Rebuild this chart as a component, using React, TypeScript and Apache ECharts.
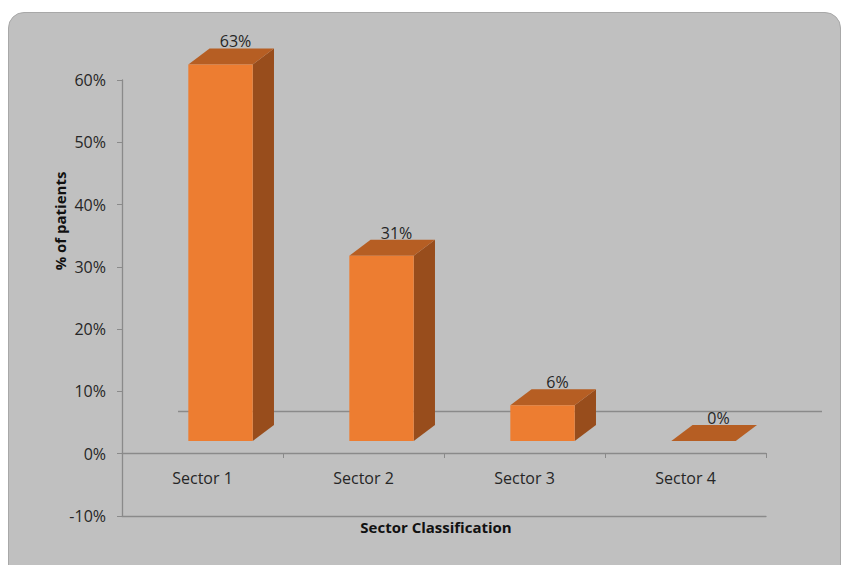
import React, { useEffect, useRef } from "react";
import * as echarts from "echarts";

const categories = ["Sector 1", "Sector 2", "Sector 3", "Sector 4"];
const values = [63, 31, 6, 0];
const yTickMin = -10;
const yTickMax = 60;
const yTickStep = 10;
const yAxisTitle = "% of patients";
const xAxisTitle = "Sector Classification";

const FRONT = "#ED7D31";
const TOP = "#B65E23";
const SIDE = "#984D1C";
const TXT = "#262626";
const AXIS = "#8a8a8a";
const FONT = "'Open Sans', 'Liberation Sans', sans-serif";

export default function App() {
  const ref = useRef<HTMLDivElement>(null);
  useEffect(() => {
    if (!ref.current) return;
    const chart = echarts.init(ref.current, undefined, { renderer: "svg" });
    chart.setOption({
      animation: false,
      backgroundColor: "transparent",
      grid: [
        { left: 122, top: 80, width: 644, height: 436, containLabel: false },
        { left: 122, top: 80, width: 644, height: 373, containLabel: false },
      ],
      graphic: [
        {
          type: "line",
          z: 1,
          shape: { x1: 178, y1: 411.5, x2: 822, y2: 411.5 },
          style: { stroke: AXIS, lineWidth: 1.3 },
        },
        {
          type: "text",
          x: 60,
          y: 221,
          rotation: Math.PI / 2,
          style: {
            text: yAxisTitle,
            align: "center",
            verticalAlign: "middle",
            font: `bold 15px ${FONT}`,
            fill: "#111",
          },
        },
        {
          type: "text",
          x: 436,
          y: 527,
          style: {
            text: xAxisTitle,
            align: "center",
            verticalAlign: "middle",
            font: `bold 15px ${FONT}`,
            fill: "#111",
          },
        },
      ],
      xAxis: [
        {
          gridIndex: 0,
          type: "category",
          data: categories,
          axisLine: { show: true, onZero: false, lineStyle: { color: AXIS, width: 1.3 } },
          axisTick: { show: false },
          axisLabel: { show: false },
          splitLine: { show: false },
        },
        {
          gridIndex: 1,
          type: "category",
          data: categories,
          boundaryGap: true,
          axisLine: { show: true, onZero: false, lineStyle: { color: AXIS, width: 1.3 } },
          axisTick: { show: true, length: 5, interval: 0, lineStyle: { color: AXIS } },
          axisLabel: { margin: 17, fontSize: 16, color: TXT, fontFamily: FONT, interval: 0 },
          splitLine: { show: false },
        },
      ],
      yAxis: [
        {
          gridIndex: 0,
          type: "value",
          min: yTickMin,
          max: yTickMax,
          interval: yTickStep,
          axisLine: { show: true, lineStyle: { color: AXIS, width: 1.3 } },
          axisTick: { show: true, length: 5, lineStyle: { color: AXIS } },
          axisLabel: {
            formatter: "{value}%",
            margin: 16,
            fontSize: 16,
            color: TXT,
            fontFamily: FONT,
          },
          splitLine: { show: false },
        },
        {
          gridIndex: 1,
          type: "value",
          show: false,
          min: -2,
          max: 60.4,
          splitLine: { show: false },
        },
      ],
      series: [
        {
          type: "custom",
          xAxisIndex: 1,
          yAxisIndex: 1,
          z: 5,
          encode: { x: 0, y: 1 },
          data: values.map((v, i) => [i, v]),
          renderItem: (params: any, api: any) => {
            const ci = api.value(0);
            const v = api.value(1);
            const top = api.coord([ci, v]);
            const base = api.coord([ci, 0]);
            const band = api.size([1, 0])[0];
            const w = band * 0.4;
            const off = band * 0.112;
            const dx = band * 0.132;
            const dy = 16;
            const x0 = top[0] + off - w / 2;
            const x1 = x0 + w;
            const yT = top[1];
            const yB = base[1];
            return {
              type: "group",
              children: [
                {
                  type: "polygon",
                  shape: { points: [[x1, yT], [x1 + dx, yT - dy], [x1 + dx, yB - dy], [x1, yB]] },
                  style: { fill: SIDE },
                },
                {
                  type: "polygon",
                  shape: { points: [[x0, yT], [x0 + dx, yT - dy], [x1 + dx, yT - dy], [x1, yT]] },
                  style: { fill: TOP },
                },
                {
                  type: "rect",
                  shape: { x: x0, y: yT, width: w, height: Math.max(0, yB - yT) },
                  style: { fill: FRONT },
                },
                {
                  type: "text",
                  x: x0 + w / 2 + 15,
                  y: yT - dy - 7,
                  style: {
                    text: `${v}%`,
                    align: "center",
                    verticalAlign: "middle",
                    font: `16px ${FONT}`,
                    fill: TXT,
                  },
                },
              ],
            };
          },
        },
      ],
    });
    return () => chart.dispose();
  }, []);

  return (
    <div style={{ position: "fixed", left: 0, top: 0, width: 843, height: 565, background: "#fff", overflow: "hidden" }}>
      <div
        style={{
          position: "absolute",
          left: 8,
          top: 12,
          width: 833,
          height: 570,
          borderRadius: 16,
          background: "#C0C0C0",
          border: "1px solid #A8A8A8",
          boxSizing: "border-box",
        }}
      />
      <div ref={ref} style={{ position: "absolute", left: 0, top: 0, width: 843, height: 565 }} />
    </div>
  );
}
